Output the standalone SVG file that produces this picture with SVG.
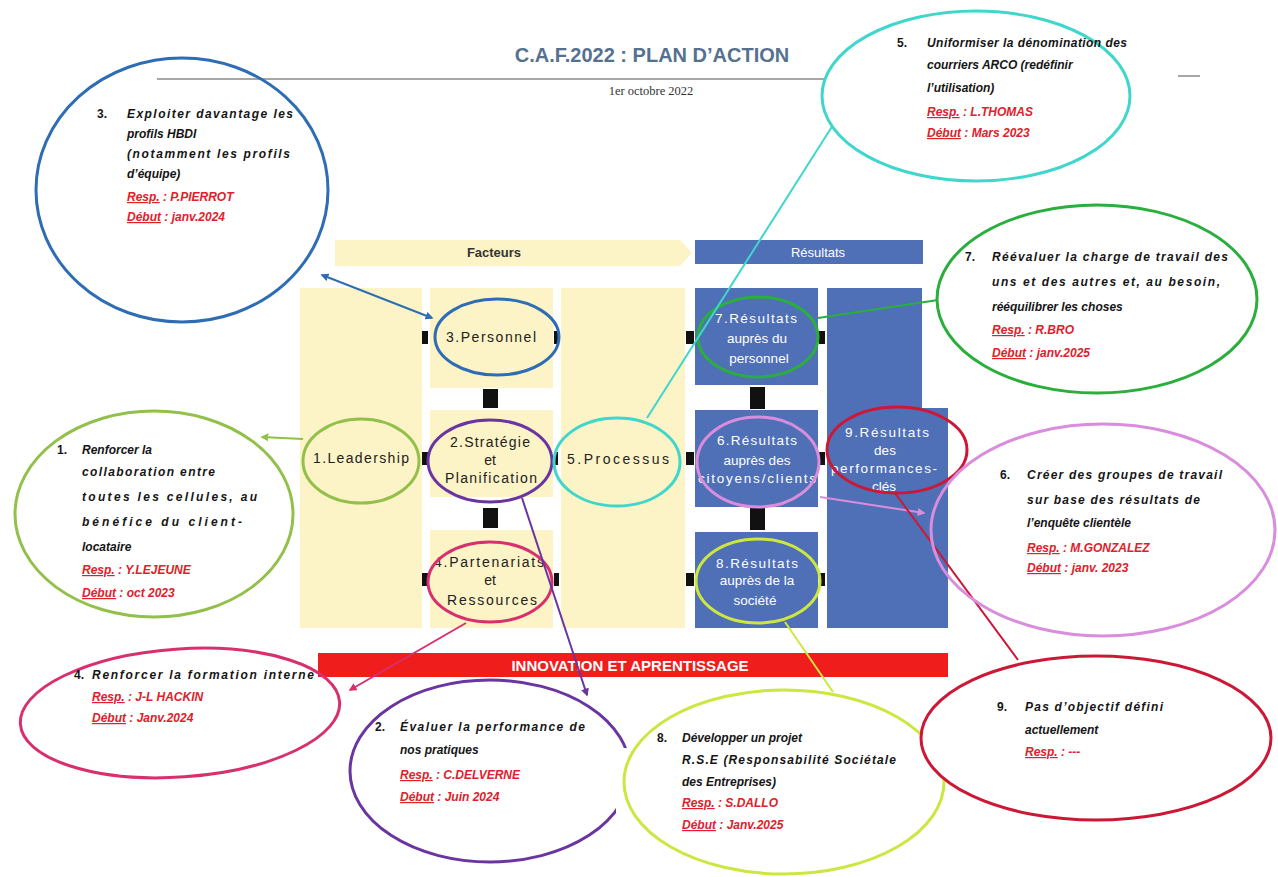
<svg xmlns="http://www.w3.org/2000/svg" width="1278" height="877" viewBox="0 0 1278 877">
<defs>
<marker id="mBlue" viewBox="0 0 10 10" refX="8" refY="5" markerWidth="4" markerHeight="4" orient="auto-start-reverse"><path d="M0,0 L10,5 L0,10 z" fill="#2e6db4"/></marker>
<marker id="mLime" viewBox="0 0 10 10" refX="8" refY="5" markerWidth="4" markerHeight="4" orient="auto-start-reverse"><path d="M0,0 L10,5 L0,10 z" fill="#8fc04a"/></marker>
<marker id="mPurple" viewBox="0 0 10 10" refX="8" refY="5" markerWidth="4" markerHeight="4" orient="auto-start-reverse"><path d="M0,0 L10,5 L0,10 z" fill="#6a35a0"/></marker>
<marker id="mPink" viewBox="0 0 10 10" refX="8" refY="5" markerWidth="4" markerHeight="4" orient="auto-start-reverse"><path d="M0,0 L10,5 L0,10 z" fill="#d8306e"/></marker>
<marker id="mOrchid" viewBox="0 0 10 10" refX="8" refY="5" markerWidth="4" markerHeight="4" orient="auto-start-reverse"><path d="M0,0 L10,5 L0,10 z" fill="#d98ddc"/></marker>
</defs>
<style>
.cal{font-family:"Liberation Sans",Arial,sans-serif;font-size:12px;font-weight:bold;font-style:italic;fill:#151515}
.num{font-style:normal}
.red{fill:#e0202a}
.u{text-decoration:underline}
.box{font-family:"Liberation Sans",Arial,sans-serif;font-size:13.5px;fill:#ffffff;text-anchor:middle}
.lbl{font-family:"Liberation Sans",Arial,sans-serif;font-size:14px;fill:#222222;text-anchor:middle}
.blk{fill:#111111}
.ring{fill:none;stroke-width:3}
.big{fill:#ffffff;stroke-width:3}
.yel{fill:#fcf3c6}
.blue{fill:#4f70b6}
.con{fill:none;stroke-width:2}
</style>
<rect x="0" y="0" width="1278" height="877" fill="#ffffff"/>

<g id="header">
<text x="652" y="62" text-anchor="middle" font-family="'Liberation Sans',Arial,sans-serif" font-size="20" font-weight="bold" fill="#56708f">C.A.F.2022 : PLAN D’ACTION</text>
<line x1="157" y1="79" x2="853" y2="79" stroke="#888888" stroke-width="1.5"/>
<line x1="1178" y1="76" x2="1200" y2="76" stroke="#888888" stroke-width="1.5"/>
<text x="651" y="95" text-anchor="middle" font-family="'Liberation Serif','Times New Roman',serif" font-size="12.5" fill="#333333">1er octobre 2022</text>
</g>

<g id="model-background">
<polygon class="yel" points="335,240 680,240 692,253 680,266 335,266"/>
<text x="494" y="257" text-anchor="middle" font-family="'Liberation Sans',Arial,sans-serif" font-size="13" font-weight="bold" fill="#333333">Facteurs</text>
<rect class="blue" x="695" y="240" width="228" height="24"/>
<text x="818" y="257" text-anchor="middle" font-family="'Liberation Sans',Arial,sans-serif" font-size="13" fill="#ffffff">Résultats</text>
<rect class="yel" x="300" y="288" width="122" height="340"/>
<rect class="yel" x="430" y="288" width="123" height="100"/>
<rect class="yel" x="430" y="410" width="123" height="87"/>
<rect class="yel" x="430" y="530" width="123" height="98"/>
<rect class="yel" x="561" y="288" width="124" height="340"/>
<rect class="blue" x="695" y="288" width="123" height="97"/>
<rect class="blue" x="695" y="410" width="123" height="97"/>
<rect class="blue" x="695" y="532" width="123" height="96"/>
<rect class="blue" x="827" y="288" width="95" height="340"/>
<rect class="blue" x="827" y="408" width="121" height="220"/>
<rect x="318" y="653" width="630" height="24" fill="#f01d1d"/>
<text x="630" y="671" text-anchor="middle" font-family="'Liberation Sans',Arial,sans-serif" font-size="15" font-weight="bold" fill="#ffffff">INNOVATION ET APRENTISSAGE</text>
</g>

<g id="links-black">
<rect class="blk" x="422" y="331" width="6" height="13"/>
<rect class="blk" x="554" y="331" width="5" height="13"/>
<rect class="blk" x="483" y="389" width="15" height="19"/>
<rect class="blk" x="422" y="452" width="6" height="13"/>
<rect class="blk" x="554" y="452" width="4" height="13"/>
<rect class="blk" x="483" y="508" width="15" height="20"/>
<rect class="blk" x="422" y="573" width="6" height="13"/>
<rect class="blk" x="554" y="573" width="5" height="13"/>
<rect class="blk" x="686" y="331" width="8" height="13"/>
<rect class="blk" x="686" y="452" width="8" height="13"/>
<rect class="blk" x="686" y="573" width="8" height="13"/>
<rect class="blk" x="819" y="331" width="6" height="13"/>
<rect class="blk" x="819" y="452" width="6" height="13"/>
<rect class="blk" x="819" y="573" width="6" height="13"/>
<rect class="blk" x="750" y="387" width="15" height="22"/>
<rect class="blk" x="750" y="508" width="15" height="22"/>
</g>

<g id="n-leadership"><text class="lbl" x="361" y="463" textLength="96" lengthAdjust="spacing">1.Leadership</text>
<ellipse class="ring" cx="361" cy="461" rx="58" ry="42" stroke="#92c04a"/></g>
<g id="n-personnel"><text class="lbl" x="491" y="342" textLength="90" lengthAdjust="spacing">3.Personnel</text>
<ellipse class="ring" cx="497" cy="337" rx="62" ry="38" stroke="#2e6db4"/></g>
<g id="n-strategie"><text class="lbl" x="490" y="447" textLength="80" lengthAdjust="spacing">2.Stratégie</text>
<text class="lbl" x="490" y="465">et</text>
<text class="lbl" x="491" y="483" textLength="92" lengthAdjust="spacing">Planification</text>
<ellipse class="ring" cx="490" cy="461" rx="62" ry="41" stroke="#6a35a0"/></g>
<g id="n-partenariats"><text class="lbl" x="489" y="567" textLength="110" lengthAdjust="spacing">4.Partenariats</text>
<text class="lbl" x="490" y="585">et</text>
<text class="lbl" x="492" y="605" textLength="90" lengthAdjust="spacing">Ressources</text>
<ellipse class="ring" cx="490" cy="582" rx="62" ry="40" stroke="#d8306e"/></g>
<g id="n-processus"><text class="lbl" x="618" y="464" textLength="102" lengthAdjust="spacing">5.Processus</text>
<ellipse class="ring" cx="617" cy="462" rx="63" ry="44" stroke="#3fd6cc"/></g>
<g id="n-res-personnel"><text class="box" x="756" y="323" textLength="82" lengthAdjust="spacing">7.Résultats</text>
<text class="box" x="757" y="343">auprès du</text>
<text class="box" x="759" y="363">personnel</text>
<ellipse class="ring" cx="758" cy="337" rx="60" ry="40" stroke="#2aae3c"/></g>
<g id="n-res-citoyens"><text class="box" x="757" y="445" textLength="80" lengthAdjust="spacing">6.Résultats</text>
<text class="box" x="757" y="465">auprès des</text>
<text class="box" x="757" y="483" textLength="118" lengthAdjust="spacing">citoyens/clients</text>
<ellipse class="ring" cx="758" cy="462" rx="61" ry="45" stroke="#d98ddc"/></g>
<g id="n-res-societe"><text class="box" x="757" y="568" textLength="82" lengthAdjust="spacing">8.Résultats</text>
<text class="box" x="757" y="585">auprès de la</text>
<text class="box" x="755" y="605">société</text>
<ellipse class="ring" cx="758" cy="581" rx="62" ry="42" stroke="#cde640"/></g>
<g id="n-res-perf"><text class="box" x="887" y="437" textLength="84" lengthAdjust="spacing">9.Résultats</text>
<text class="box" x="885" y="455">des</text>
<text class="box" x="884" y="473" textLength="106" lengthAdjust="spacing">performances-</text>
<text class="box" x="884" y="491">clés</text>
<ellipse class="ring" cx="897" cy="450" rx="70" ry="43" stroke="#cc1836"/></g>

<g id="connectors">
<line class="con" x1="322" y1="275" x2="432" y2="318" stroke="#2e6db4" marker-start="url(#mBlue)" marker-end="url(#mBlue)"/>
<line class="con" x1="303" y1="439" x2="262" y2="437" stroke="#8fc04a" marker-end="url(#mLime)"/>
<line class="con" x1="522" y1="498" x2="587" y2="695" stroke="#6a35a0" marker-end="url(#mPurple)"/>
<line class="con" x1="466" y1="623" x2="350" y2="690" stroke="#d8306e" marker-end="url(#mPink)"/>
<line class="con" x1="647" y1="418" x2="833" y2="125" stroke="#3fd6cc"/>
<line class="con" x1="818" y1="318" x2="938" y2="300" stroke="#2aae3c" stroke-width="3"/>
<line class="con" x1="820" y1="497" x2="924" y2="513" stroke="#d98ddc" marker-end="url(#mOrchid)"/>
<line class="con" x1="895" y1="493" x2="1018" y2="660" stroke="#cc1836"/>
<line class="con" x1="785" y1="622" x2="833" y2="692" stroke="#cde640"/>
</g>

<g id="c3">
<ellipse class="ring" cx="182" cy="190" rx="146" ry="132" stroke="#2e6db4"/>
<text class="cal num" x="97" y="118">3.</text>
<text class="cal" x="127" y="118" textLength="166" lengthAdjust="spacing">Exploiter davantage les</text>
<text class="cal" x="127" y="138">profils HBDI</text>
<text class="cal" x="127" y="158" textLength="163" lengthAdjust="spacing">(notamment les profils</text>
<text class="cal" x="127" y="178">d’équipe)</text>
<text class="cal red" x="127" y="201"><tspan class="u">Resp.</tspan> : P.PIERROT</text>
<text class="cal red" x="127" y="221"><tspan class="u">Début</tspan> : janv.2024</text>
</g>

<g id="c5">
<ellipse class="big" cx="976" cy="96" rx="154" ry="85" stroke="#3fd6cc"/>
<text class="cal num" x="897" y="47">5.</text>
<text class="cal" x="927" y="47" textLength="200" lengthAdjust="spacing">Uniformiser la dénomination des</text>
<text class="cal" x="927" y="69">courriers ARCO (redéfinir</text>
<text class="cal" x="927" y="92">l’utilisation)</text>
<text class="cal red" x="927" y="116"><tspan class="u">Resp.</tspan> : L.THOMAS</text>
<text class="cal red" x="927" y="137"><tspan class="u">Début</tspan> : Mars 2023</text>
</g>

<g id="c7">
<ellipse class="ring" cx="1097" cy="299" rx="160" ry="94" stroke="#2aae3c"/>
<text class="cal num" x="965" y="261">7.</text>
<text class="cal" x="992" y="261" textLength="236" lengthAdjust="spacing">Réévaluer la charge de travail des</text>
<text class="cal" x="992" y="286" textLength="228" lengthAdjust="spacing">uns et des autres et, au besoin,</text>
<text class="cal" x="992" y="311">rééquilibrer les choses</text>
<text class="cal red" x="992" y="334"><tspan class="u">Resp.</tspan> : R.BRO</text>
<text class="cal red" x="992" y="357"><tspan class="u">Début</tspan> : janv.2025</text>
</g>

<g id="c1">
<ellipse class="ring" cx="154" cy="514" rx="139" ry="103" stroke="#92c04a"/>
<text class="cal num" x="57" y="454">1.</text>
<text class="cal" x="82" y="454">Renforcer la</text>
<text class="cal" x="82" y="476" textLength="133" lengthAdjust="spacing">collaboration entre</text>
<text class="cal" x="82" y="501" textLength="175" lengthAdjust="spacing">toutes les cellules, au</text>
<text class="cal" x="82" y="526" textLength="160" lengthAdjust="spacing">bénéfice du client-</text>
<text class="cal" x="82" y="551">locataire</text>
<text class="cal red" x="82" y="574"><tspan class="u">Resp.</tspan> : Y.LEJEUNE</text>
<text class="cal red" x="82" y="597"><tspan class="u">Début</tspan> : oct 2023</text>
</g>

<g id="c6">
<ellipse class="ring" cx="1103" cy="530" rx="172" ry="106" stroke="#d98ddc"/>
<text class="cal num" x="1000" y="479">6.</text>
<text class="cal" x="1027" y="479" textLength="195" lengthAdjust="spacing">Créer des groupes de travail</text>
<text class="cal" x="1027" y="504" textLength="173" lengthAdjust="spacing">sur base des résultats de</text>
<text class="cal" x="1027" y="527">l’enquête clientèle</text>
<text class="cal red" x="1027" y="552"><tspan class="u">Resp.</tspan> : M.GONZALEZ</text>
<text class="cal red" x="1027" y="572"><tspan class="u">Début</tspan> : janv. 2023</text>
</g>

<g id="c4">
<ellipse class="ring" cx="180" cy="713" rx="160" ry="64" transform="rotate(-4 180 713)" stroke="#d8306e"/>
<text class="cal num" x="74" y="679">4.</text>
<text class="cal" x="92" y="679" textLength="222" lengthAdjust="spacing">Renforcer la formation interne</text>
<text class="cal red" x="92" y="701"><tspan class="u">Resp.</tspan> : J-L HACKIN</text>
<text class="cal red" x="92" y="722"><tspan class="u">Début</tspan> : Janv.2024</text>
</g>

<g id="c2">
<ellipse class="ring" cx="490" cy="771" rx="140" ry="91" stroke="#6a35a0"/>
<rect x="616" y="748" width="20" height="76" fill="#ffffff"/>
<text class="cal num" x="375" y="731">2.</text>
<text class="cal" x="400" y="731" textLength="185" lengthAdjust="spacing">Évaluer la performance de</text>
<text class="cal" x="400" y="754">nos pratiques</text>
<text class="cal red" x="400" y="779"><tspan class="u">Resp.</tspan> : C.DELVERNE</text>
<text class="cal red" x="400" y="801"><tspan class="u">Début</tspan> : Juin 2024</text>
</g>

<g id="c8">
<ellipse class="big" cx="784" cy="782" rx="160" ry="92" stroke="#cde640"/>
<text class="cal num" x="657" y="742">8.</text>
<text class="cal" x="682" y="742">Développer un projet</text>
<text class="cal" x="682" y="764" textLength="214" lengthAdjust="spacing">R.S.E (Responsabilité Sociétale</text>
<text class="cal" x="682" y="786">des Entreprises)</text>
<text class="cal red" x="682" y="807"><tspan class="u">Resp.</tspan> : S.DALLO</text>
<text class="cal red" x="682" y="829"><tspan class="u">Début</tspan> : Janv.2025</text>
</g>

<g id="c9">
<ellipse class="big" cx="1096" cy="738" rx="175" ry="82" stroke="#cc1836"/>
<text class="cal num" x="997" y="711">9.</text>
<text class="cal" x="1025" y="711" textLength="138" lengthAdjust="spacing">Pas d’objectif défini</text>
<text class="cal" x="1025" y="734">actuellement</text>
<text class="cal red" x="1025" y="756"><tspan class="u">Resp.</tspan> : ---</text>
</g>
</svg>
